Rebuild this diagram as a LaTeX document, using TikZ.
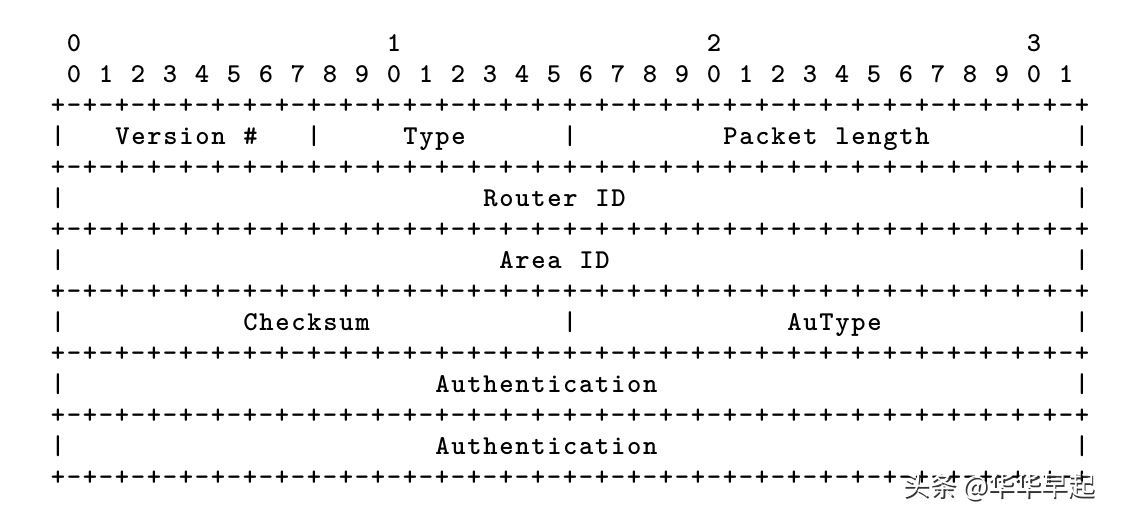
\documentclass[tikz,border=0pt]{standalone}
\usepackage{fontspec}
\newfontfamily\asciifont{lmmonolt10-bold.otf}[LetterSpace=6.2]
\newfontfamily\cjkfont{Noto Sans CJK SC}

\begin{document}
\begin{tikzpicture}[x=0.02cm, y=-0.02cm]
  \tikzstyle{cell} = [inner sep=0pt, anchor=base, font={\asciifont\fontsize{15.5pt}{15.5pt}\selectfont}]
  \tikzstyle{field} = [cell, anchor=base west]
  \tikzstyle{wmark} = [inner sep=0pt, font={\cjkfont\fontsize{15.2pt}{15.2pt}\selectfont}]

  \useasboundingbox (0,0) rectangle (1128,518);

  % bit numbers
  \foreach \t in {0,...,3}
    \node[cell] (tens\t) at ({58+16*(1+20*\t)}, 51) {\t};
  \foreach \b [evaluate=\b as \d using {int(mod(\b,10))}] in {0,...,31}
    \node[cell] (bit\b) at ({58+16*(2*\b+1)}, 82) {\d};

  % +-+-+ separator lines
  \foreach \r in {2,4,...,14}
    \foreach \c in {0,...,64} {
      \ifodd\c
        \node[cell] (sep\r-\c) at ({58+16*\c}, {51+31*\r}) {-};
      \else
        \node[cell] (sep\r-\c) at ({58+16*\c}, {51+31*\r}) {+};
      \fi
    }

  % side bars of every field row
  \foreach \r in {3,5,...,13} {
    \node[cell] (lbar\r) at (58, {51+31*\r}) {|};
    \node[cell] (rbar\r) at (1082, {51+31*\r}) {|};
  }
  \node[cell] (bar3a) at (314, 144) {|};
  \node[cell] (bar3b) at (570, 144) {|};
  \node[cell] (bar9) at (570, 330) {|};

  % fields
  \node[field] (version) at (115, 144) {Version};
  \node[field] (hash) at (243, 144) {\#};
  \node[field] (type) at (403, 144) {Type};
  \node[field] (packet) at (723, 144) {Packet};
  \node[field] (length) at (835, 144) {length};
  \node[field] (router) at (483, 206) {Router};
  \node[field] (rid) at (595, 206) {ID};
  \node[field] (area) at (499, 268) {Area};
  \node[field] (aid) at (579, 268) {ID};
  \node[field] (checksum) at (243, 330) {Checksum};
  \node[field] (autype) at (787, 330) {AuType};
  \node[field] (auth1) at (435, 392) {Authentication};
  \node[field] (auth2) at (435, 454) {Authentication};

  % watermark
  \node[wmark, black!80] (shadow) at (1000.5, 488.5) {头条 @华华早起};
  \node[wmark, white] (wm) at (999, 487) {头条 @华华早起};
\end{tikzpicture}
\end{document}
